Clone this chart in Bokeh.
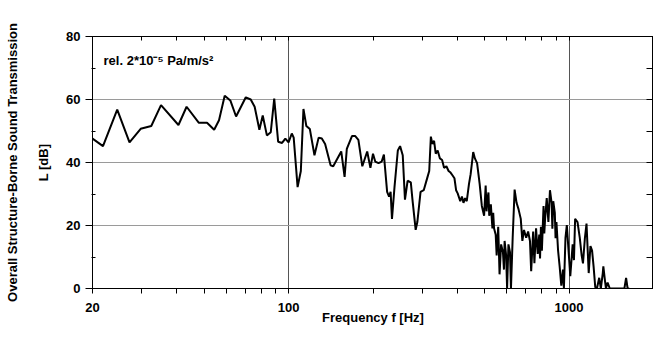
from bokeh.plotting import figure
from bokeh.models import (LogAxis, LinearAxis, FixedTicker, Label, Range1d,
                          NumeralTickFormatter)
from bokeh.embed import file_html
from bokeh.resources import INLINE

# ---- data ----
freq_hz = [
    20, 21.8, 24.5, 27.1, 29.7, 32.4, 35.1, 40.5, 43.3, 47.9,
    51.2, 54.3, 56.5, 59.2, 62.0, 65.0, 70.4, 73.3, 75.7, 78.7,
    80.9, 83.7, 86.4, 88.9, 91.8, 94.8, 97.4, 100, 102.7, 104.3,
    107.7, 110.6, 113.0, 115.7, 119.1, 123.7, 128.0, 131.4, 135.0, 141.2,
    144.3, 154.1, 158.4, 161.3, 168.3, 172.9, 177.4, 183.2, 190.7, 195.8,
    200.0, 203.7, 209.3, 214.8, 218.7, 224.6, 228.2, 231.1, 233.7, 238.6,
    245.2, 249.8, 255.3, 260.0, 265.7, 272.8, 276.5, 283.9, 287.8, 295.5,
    303.3, 311.5, 317.3, 321.6, 325.7, 330.2, 334.7, 340.1, 346.4, 352.7,
    358.4, 365.3, 372.0, 378.0, 385.0, 390.3, 395.6, 400.8, 409.4, 415.0,
    420.3, 426.0, 431.8, 439.8, 445.8, 455.3, 461.6, 470.0, 480.0, 488.7,
    497.9, 504.3, 508.0, 512.3, 516.0, 519.2, 526.2, 533.0, 536.5, 540.2,
    547.6, 551.9, 559.0,
    565.2, 572.5, 581.2, 586.0, 589.1, 596.6, 601.3, 608.0, 615.8, 620.7, 629.5,
    639.6, 649.9, 660.4, 672.7, 681.6, 690.8, 703.3, 714.6, 725.5, 732.7,
    744.7, 752.4, 762.7, 773.1, 783.0, 788.0, 793.7, 800.0, 811.0, 816.0, 821.4, 832.5,
    843.9, 854.9, 866.5, 872.0, 878.3, 889.5, 895.0, 901.6, 913.9, 925.6, 938.3, 951.1,
    958.6, 971.0, 981.8, 997.6, 1010, 1030, 1041, 1051, 1072, 1092, 1109,
    1121, 1139, 1154, 1175, 1192, 1208, 1223, 1240, 1257, 1281,
    1298, 1319, 1325, 1343, 1354, 1372, 1397, 1575, 1597, 1617,
    1639,
]
level_db = [
    47.6, 45.2, 56.8, 46.4, 50.7, 51.6, 58.2, 51.9, 57.7, 52.6,
    52.6, 50.4, 53.4, 61.2, 59.7, 54.6, 60.7, 60.0, 57.7, 50.4,
    54.9, 48.6, 49.6, 60.3, 46.6, 46.2, 47.6, 46.4, 49.2, 47.9,
    32.2, 37.3, 57.0, 51.6, 50.6, 42.3, 47.9, 47.6, 45.9, 39.1,
    38.8, 43.5, 35.4, 44.3, 48.4, 48.4, 47.2, 38.8, 43.5, 38.3,
    42.8, 40.3, 39.8, 40.3, 42.5, 30.7, 29.2, 30.7, 22.1, 32.2,
    43.8, 45.2, 42.3, 28.2, 34.2, 33.7, 28.2, 18.6, 21.1, 30.7,
    31.2, 34.8, 37.3, 48.2, 45.9, 46.9, 42.8, 43.8, 41.3, 40.8,
    38.3, 38.8, 37.3, 36.8, 35.8, 35.0, 31.2, 30.2, 27.7, 29.2,
    27.2, 28.7, 27.7, 33.2, 36.3, 43.3, 41.3, 39.8, 33.2, 26.2,
    23.1, 32.7, 24.5, 28.7, 30.5, 23.1, 26.7, 19.1, 24.0, 19.1,
    17.1, 10.5, 19.6,
    4.5, 14.0, 11.5, 6.0, 15.1, 10.5, 0, 14.0, 11.5, 0, 16.1,
    31.4, 27.2, 25.2, 22.1, 15.1, 18.6, 16.1, 18.1, 15.1, 5.5,
    18.1, 8.0, 19.1, 11.0, 17.1, 9.5, 19.6, 12.0, 26.2, 17.5, 22.1, 28.7,
    21.1, 31.2, 27.2, 19.0, 27.7, 24.1, 16.0, 21.1, 12.0, 7.0, 0.9, 6.0,
    0, 16.1, 20.1, 11.0, 3.9, 14.0, 9.0, 22.1, 21.1, 16.1, 10.5,
    8.0, 16.1, 20.6, 4.9, 13.5, 12.0, 7.0, 0.4, 0, 3.4,
    0, 4.9, 7.0, 2.4, 0, 1.9, 0, 0, 3.4, 0,
    0,
]
x_major = [20, 100, 1000]
x_minor = [30, 40, 50, 60, 70, 80, 90, 200, 300, 400, 500, 600, 700, 800, 900, 2000]
y_major = [0, 20, 40, 60, 80]
y_minor = [10, 30, 50, 70]
y_right = [0, 10, 20, 30, 40, 50, 60, 70, 80]
x_grid = [100, 1000]
y_grid = [20, 40, 60]

FONT = "Liberation Sans"

p = figure(width=653, height=327, x_axis_type="log",
           x_range=Range1d(20, 2000), y_range=Range1d(0, 80),
           output_backend="svg", toolbar_location=None,
           min_border_left=92, min_border_right=0,
           min_border_top=36, min_border_bottom=39,
           background_fill_color="white", border_fill_color="white")
p.outline_line_color = "black"
p.outline_line_width = 1

# grids
p.xgrid.ticker = FixedTicker(ticks=x_grid)
p.xgrid.grid_line_color = "#555555"
p.xgrid.grid_line_width = 1
p.ygrid.ticker = FixedTicker(ticks=y_grid)
p.ygrid.grid_line_color = "#9a9a9a"
p.ygrid.grid_line_width = 1

# bottom axis
xa = p.xaxis[0]
xa.ticker = FixedTicker(ticks=x_major, minor_ticks=x_minor)
xa.formatter = NumeralTickFormatter(format="0")
xa.axis_line_color = "black"
xa.major_tick_line_color = "black"
xa.minor_tick_line_color = "black"
xa.major_tick_in = 0
xa.major_tick_out = 5
xa.minor_tick_in = 0
xa.minor_tick_out = 5
xa.major_label_standoff = 9
xa.major_label_text_font = FONT
xa.major_label_text_font_style = "bold"
xa.major_label_text_font_size = "13px"
xa.major_label_text_color = "black"
xa.axis_label = "Frequency f [Hz]"
xa.axis_label_text_font = FONT
xa.axis_label_text_font_style = "bold"
xa.axis_label_text_font_size = "13px"
xa.axis_label_text_color = "black"
xa.axis_label_standoff = -5

# left axis
ya = p.yaxis[0]
ya.ticker = FixedTicker(ticks=y_major, minor_ticks=y_minor)
ya.axis_line_color = "black"
ya.major_tick_line_color = "black"
ya.minor_tick_line_color = "black"
ya.major_tick_in = 0
ya.major_tick_out = 7
ya.minor_tick_in = 3
ya.minor_tick_out = 1
ya.major_label_standoff = 5
ya.major_label_text_font = FONT
ya.major_label_text_font_style = "bold"
ya.major_label_text_font_size = "13px"
ya.major_label_text_color = "black"
ya.axis_label = "L [dB]"
ya.axis_label_text_font = FONT
ya.axis_label_text_font_style = "bold"
ya.axis_label_text_font_size = "13px"
ya.axis_label_text_color = "black"
ya.axis_label_standoff = 12

# outer left label axis (no ticks, label only)
outer = LinearAxis(ticker=FixedTicker(ticks=[200]), axis_line_color=None,
                   major_tick_line_color=None, minor_tick_line_color=None,
                   major_label_text_color=None, major_label_text_font_size="1px",
                   major_label_standoff=0,
                   axis_label="Overall Structure-Borne Sound Transmission",
                   axis_label_text_font=FONT, axis_label_text_font_style="bold",
                   axis_label_text_font_size="13px", axis_label_text_color="black",
                   axis_label_standoff=14)
p.add_layout(outer, "left")

# top axis (ticks only, inward)
top = LogAxis(ticker=FixedTicker(ticks=x_major, minor_ticks=x_minor),
              axis_line_color="black", major_tick_line_color="black",
              minor_tick_line_color="black",
              major_tick_in=4, major_tick_out=0, minor_tick_in=4, minor_tick_out=0,
              major_label_text_color=None, major_label_text_font_size="1px",
              major_label_standoff=0)
p.add_layout(top, "above")

# right axis (ticks only, inward)
right = LinearAxis(ticker=FixedTicker(ticks=y_right),
                   axis_line_color="black", major_tick_line_color="black",
                   minor_tick_line_color=None,
                   major_tick_in=7, major_tick_out=0,
                   major_label_text_color=None, major_label_text_font_size="1px",
                   major_label_standoff=0)
p.add_layout(right, "right")

# data line
p.line(freq_hz, level_db, line_color="black", line_width=2)

# annotation
note = Label(x=21.9, y=72.4, text="rel. 2*10\u207b\u2075 Pa/m/s\u00b2",
             text_font=FONT, text_font_style="bold", text_font_size="13px",
             text_color="black", text_baseline="middle", text_align="left")
p.add_layout(note)

open("out.html", "w").write(file_html(p, INLINE))
